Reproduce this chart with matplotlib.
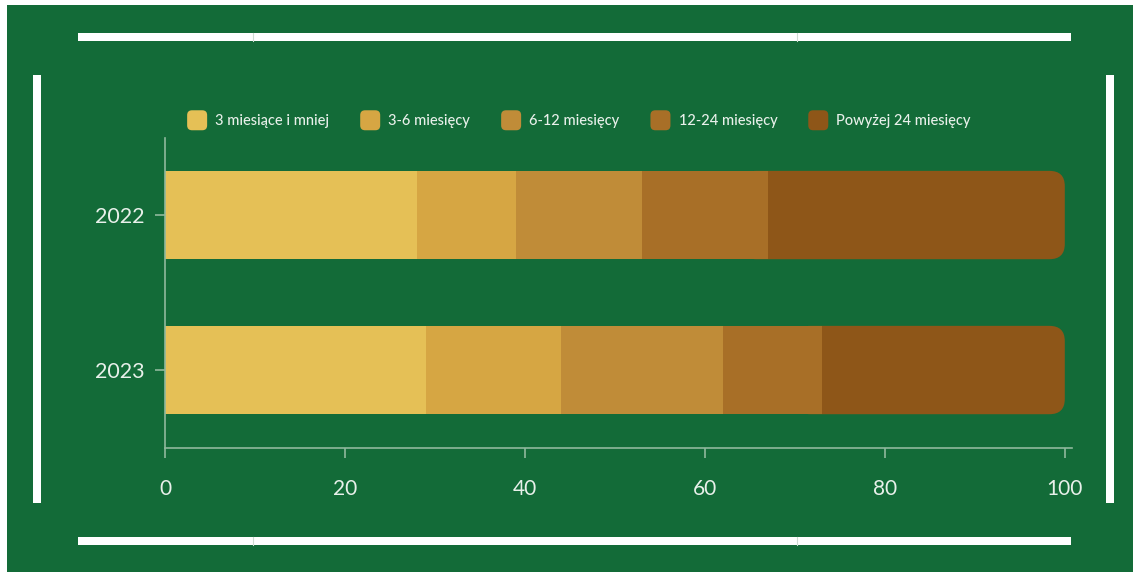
import matplotlib.pyplot as plt
from matplotlib.patches import Rectangle, FancyBboxPatch, Patch
from matplotlib.legend_handler import HandlerPatch

plt.rcParams['font.family'] = ['Lato', 'DejaVu Sans']

years = ['2022', '2023']
labels = ['3 miesiące i mniej', '3-6 miesięcy', '6-12 miesięcy',
          '12-24 miesięcy', 'Powyżej 24 miesięcy']
shares_2022 = [28, 11, 14, 14, 33]
shares_2023 = [29, 15, 18, 11, 27]
colors = ['#e5c056', '#d6a643', '#c08c38', '#a86f27', '#8e5618']

GREEN = '#136b38'
AXIS = '#8fb89c'
TXT = '#e8f0ea'

W, H = 1133, 572


class RoundSquare(HandlerPatch):
    # legend key drawn as a small rounded square
    def create_artists(self, legend, orig_handle, xdescent, ydescent,
                       width, height, fontsize, trans):
        s = 14.4
        cx = -xdescent + width / 2
        cy = -ydescent + height / 2
        p = FancyBboxPatch((cx - s / 2, cy - s / 2), s, s,
                           boxstyle='round,pad=0,rounding_size=3.5',
                           fc=orig_handle.get_facecolor(), ec='none',
                           transform=trans)
        return [p]


fig = plt.figure(figsize=(W / 100, H / 100), dpi=100)
fig.patch.set_facecolor('white')

# background decoration in pixel coords
bg = fig.add_axes([0, 0, 1, 1])
bg.set_xlim(0, W)
bg.set_ylim(H, 0)
bg.axis('off')
bg.add_patch(Rectangle((7, 5), W - 7, H - 5, color=GREEN, lw=0))
for x, y, w, h in [(78, 33, 993, 8), (78, 537, 993, 8),
                   (33, 75, 8, 428), (1106, 75, 8, 428)]:
    bg.add_patch(Rectangle((x, y), w, h, color='white', lw=0))
for x in (253, 797):
    for y in (33, 537):
        bg.plot([x, x], [y, y + 8], color='#cfdcd3', lw=0.8)

ax = fig.add_axes([165 / W, 124 / H, 907 / W, 310 / H])
ax.set_facecolor('none')

bar_h = 0.57
rad = 1.7
for i, vals in enumerate([shares_2022, shares_2023]):
    left = 0
    n = len(vals)
    for j, v in enumerate(vals):
        if j == n - 1:
            # last piece has rounded right end, tucked under previous piece
            box = FancyBboxPatch((left - 3, i - bar_h / 2), v + 3, bar_h,
                                 boxstyle='round,pad=0,rounding_size=%g' % rad,
                                 mutation_aspect=0.058, fc=colors[j], ec='none',
                                 zorder=1)
            ax.add_patch(box)
        else:
            ax.barh(i, v, left=left, height=bar_h, color=colors[j],
                    edgecolor='none', zorder=2)
        left += v

ax.set_xlim(0, 100.8)
ax.set_ylim(1.503, -0.497)
ax.set_yticks(range(len(years)))
ax.set_yticklabels(years)
ax.set_xticks([0, 20, 40, 60, 80, 100])

for s in ['top', 'right']:
    ax.spines[s].set_visible(False)
for s in ['left', 'bottom']:
    ax.spines[s].set_color(AXIS)
    ax.spines[s].set_linewidth(1.2)
ax.tick_params(axis='both', colors=AXIS, labelcolor=TXT, length=7, width=1.2)
ax.tick_params(axis='x', labelsize=15, pad=15)
ax.tick_params(axis='y', labelsize=15.5, pad=8)

handles = [Patch(fc=c, ec='none') for c in colors]
leg = fig.legend(handles, labels, loc='center', bbox_to_anchor=(0.511, 1 - 121 / H),
                 ncol=5, frameon=False, fontsize=10.5, labelcolor=TXT,
                 handlelength=1.4, handleheight=1.0, handletextpad=0.55,
                 columnspacing=2.1, handler_map={Patch: RoundSquare()})
for t in leg.get_texts():
    t.set_fontweight('medium')

fig.savefig('out.png', dpi=100, facecolor=fig.get_facecolor())
